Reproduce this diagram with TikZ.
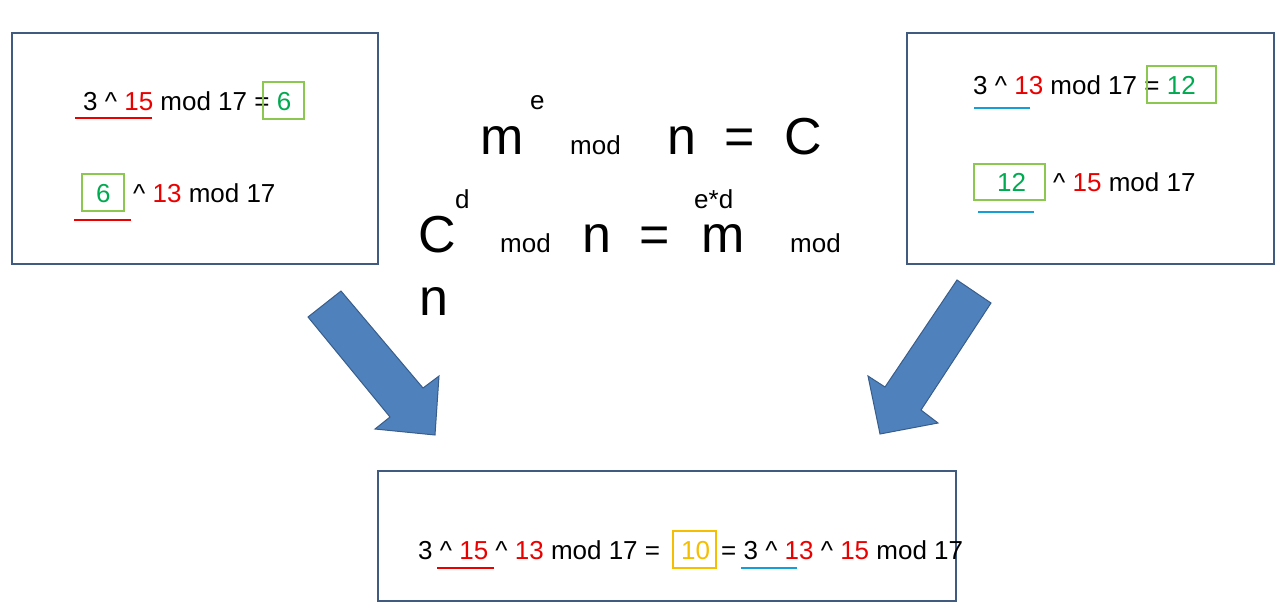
\documentclass[tikz,border=0pt]{standalone}
\usepackage{fontspec}
\setmainfont{Liberation Sans}
\definecolor{frame}{RGB}{65,90,128}
\definecolor{grnbox}{RGB}{140,200,80}
\definecolor{grntxt}{RGB}{0,170,80}
\definecolor{myred}{RGB}{235,0,0}
\definecolor{myblue}{RGB}{20,160,215}
\definecolor{gold}{RGB}{245,190,0}
\definecolor{arrfill}{RGB}{79,129,189}
\definecolor{arrline}{RGB}{56,93,138}
\tikzset{
  txt/.style={inner sep=0pt, anchor=base west, font=\fontsize{26}{31}\selectfont},
  bigtxt/.style={inner sep=0pt, anchor=base west, font=\fontsize{52}{60}\selectfont},
  panel/.style={draw=frame, line width=2pt},
  hlbox/.style={draw=grnbox, line width=2pt},
  goldbox/.style={draw=gold, line width=2pt},
  redline/.style={draw=myred, line width=2pt},
  blueline/.style={draw=myblue, line width=2pt},
  fatarrow/.style={fill=arrfill, draw=arrline, line width=1pt, line join=miter}
}
\begin{document}
\begin{tikzpicture}[x=1pt,y=-1pt]
\useasboundingbox (0,0) rectangle (1286,614);
\fill[white] (0,0) rectangle (1286,614);

% panels
\draw[panel] (12,33) rectangle (378,264);
\draw[panel] (907,33) rectangle (1274,264);
\draw[panel] (378,471) rectangle (956,601);

% left panel
\node[txt] (l1) at (83,110) {3 \^{} \textcolor{myred}{15} mod 17 = \textcolor{grntxt}{6}};
\draw[hlbox] (263,82) rectangle (304,119);
\draw[redline] (75,118) -- (152,118);
\node[txt] (l2a) at (96,202) {\textcolor{grntxt}{6}};
\draw[hlbox] (82,174) rectangle (124,211);
\node[txt] (l2b) at (133,202) {\^{} \textcolor{myred}{13} mod 17};
\draw[redline] (74,220) -- (131,220);

% right panel
\node[txt] (r1) at (973,94) {3 \^{} \textcolor{myred}{13} mod 17 = \textcolor{grntxt}{12}};
\draw[hlbox] (1147,66) rectangle (1216,103);
\draw[blueline] (974,108) -- (1030,108);
\node[txt] (r2a) at (997,191) {\textcolor{grntxt}{12}};
\draw[hlbox] (974,164) rectangle (1045,200);
\node[txt] (r2b) at (1053,191) {\^{} \textcolor{myred}{15} mod 17};
\draw[blueline] (978,212) -- (1034,212);

% bottom panel
\node[txt] (b1) at (418,559) {3 \^{} \textcolor{myred}{15} \^{} \textcolor{myred}{13} mod 17 =};
\draw[goldbox] (673,531) rectangle (716,568);
\node[txt] (b2) at (681,559) {\textcolor{gold}{10}};
\node[txt] (b3) at (721,559) {= 3 \^{} \textcolor{myred}{13} \^{} \textcolor{myred}{15} mod 17};
\draw[redline] (437,568) -- (494,568);
\draw[blueline] (741,568) -- (797,568);

% formula line 1
\node[bigtxt] (f1m) at (480,154) {m};
\node[txt] (f1e) at (530,109) {e};
\node[txt] (f1mod) at (570,154) {mod};
\node[bigtxt] (f1n) at (667,154) {n};
\node[bigtxt] (f1eq) at (724,154) {=};
\node[bigtxt] (f1c) at (784,154) {C};

% formula line 2
\node[bigtxt] (f2c) at (418,252) {C};
\node[txt] (f2d) at (455,208) {d};
\node[txt] (f2mod) at (500,252) {mod};
\node[bigtxt] (f2n) at (582,252) {n};
\node[bigtxt] (f2eq) at (639,252) {=};
\node[bigtxt] (f2m) at (701,252) {m};
\node[txt] (f2ed) at (694,208) {e*d};
\node[txt] (f2mod2) at (790,252) {mod};
\node[bigtxt] (f3n) at (419,315) {n};

% arrows
\draw[fatarrow] (341,291) -- (308,317) -- (390,417) -- (375,429) -- (435,435) -- (439,376) -- (423,388) -- cycle;
\draw[fatarrow] (957,280) -- (991,303) -- (921,410) -- (938,423) -- (880,434) -- (868,376) -- (885,387) -- cycle;
\end{tikzpicture}
\end{document}
